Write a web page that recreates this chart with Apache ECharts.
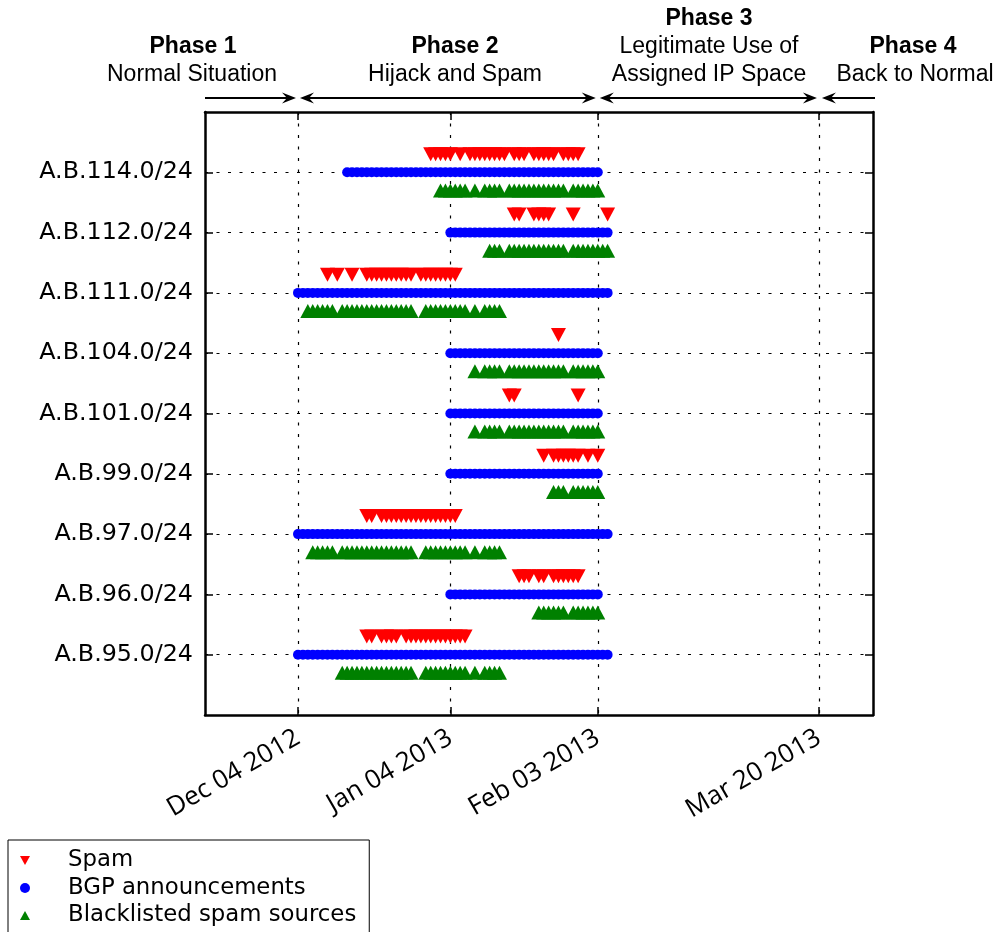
<!DOCTYPE html>
<html>
<head>
<meta charset="utf-8">
<script src="https://cdn.jsdelivr.net/npm/echarts@6/dist/echarts.min.js"></script>
<style>html,body{margin:0;padding:0;background:#fff;}#main{width:998px;height:932px;}</style>
</head>
<body>
<div id="main"></div>
<script>
// Day numbers are counted from Dec 04 2012 (day 0).
const rowNames = ['A.B.95.0/24','A.B.96.0/24','A.B.97.0/24','A.B.99.0/24','A.B.101.0/24','A.B.104.0/24','A.B.111.0/24','A.B.112.0/24','A.B.114.0/24'];
const tickDays = [0, 31, 61, 106];
const tickLabels = ['Dec 04 2012', 'Jan 04 2013', 'Feb 03 2013', 'Mar 20 2013'];
const phaseBoundaryDays = [0, 61, 106];

// one list per row, rows in rowNames order
const spamDays = [
  [14,15,17,18,19,20,22,23,24,25,26,27,28,29,30,31,32,33,34],
  [45,46,47,49,50,52,53,54,55,56,57],
  [14,15,17,18,19,20,21,22,23,24,25,26,27,28,29,30,31,32],
  [50,52,53,54,55,56,57,59,61],
  [43,44,57],
  [53],
  [6,8,11,14,15,16,17,18,19,20,21,22,23,25,26,27,28,29,30,31,32],
  [44,45,48,49,50,51,56,63],
  [27,28,29,30,31,33,35,36,37,38,39,40,41,42,44,45,46,48,49,50,51,52,54,55,56,57]
];
const bgpDays = [
  [0,1,2,3,4,5,6,7,8,9,10,11,12,13,14,15,16,17,18,19,20,21,22,23,24,25,26,27,28,29,30,31,32,33,34,35,36,37,38,39,40,41,42,43,44,45,46,47,48,49,50,51,52,53,54,55,56,57,58,59,60,61,62,63],
  [31,32,33,34,35,36,37,38,39,40,41,42,43,44,45,46,47,48,49,50,51,52,53,54,55,56,57,58,59,60,61],
  [0,1,2,3,4,5,6,7,8,9,10,11,12,13,14,15,16,17,18,19,20,21,22,23,24,25,26,27,28,29,30,31,32,33,34,35,36,37,38,39,40,41,42,43,44,45,46,47,48,49,50,51,52,53,54,55,56,57,58,59,60,61,62,63],
  [31,32,33,34,35,36,37,38,39,40,41,42,43,44,45,46,47,48,49,50,51,52,53,54,55,56,57,58,59,60,61],
  [31,32,33,34,35,36,37,38,39,40,41,42,43,44,45,46,47,48,49,50,51,52,53,54,55,56,57,58,59,60,61],
  [31,32,33,34,35,36,37,38,39,40,41,42,43,44,45,46,47,48,49,50,51,52,53,54,55,56,57,58,59,60,61],
  [0,1,2,3,4,5,6,7,8,9,10,11,12,13,14,15,16,17,18,19,20,21,22,23,24,25,26,27,28,29,30,31,32,33,34,35,36,37,38,39,40,41,42,43,44,45,46,47,48,49,50,51,52,53,54,55,56,57,58,59,60,61,62,63],
  [31,32,33,34,35,36,37,38,39,40,41,42,43,44,45,46,47,48,49,50,51,52,53,54,55,56,57,58,59,60,61,62,63],
  [10,11,12,13,14,15,16,17,18,19,20,21,22,23,24,25,26,27,28,29,30,31,32,33,34,35,36,37,38,39,40,41,42,43,44,45,46,47,48,49,50,51,52,53,54,55,56,57,58,59,60,61]
];
const blacklistDays = [
  [9,10,11,12,13,14,15,16,17,18,19,20,21,22,23,26,27,28,29,30,31,32,33,34,36,38,39,40,41],
  [49,50,51,52,53,54,56,57,58,59,60,61],
  [3,4,5,6,7,9,10,11,12,13,14,15,16,17,18,19,20,21,22,23,26,27,28,29,30,31,32,33,34,36,38,39,40,41],
  [52,53,54,56,57,58,59,60,61],
  [36,38,39,40,41,43,44,45,46,47,48,49,50,51,52,53,54,56,57,58,59,60,61],
  [36,38,39,40,41,43,44,45,46,47,48,49,50,51,52,53,54,56,57,58,59,60,61],
  [2,3,4,5,6,7,9,10,11,12,13,14,15,16,17,18,19,20,21,22,23,26,27,28,29,30,31,32,33,34,36,38,39,40,41],
  [39,40,41,43,44,45,46,47,48,49,50,51,52,53,54,56,57,58,59,60,61,62,63],
  [29,30,31,32,33,34,36,38,39,40,41,43,44,45,46,47,48,49,50,51,52,53,54,56,57,58,59,60,61]
];

const X_MIN = -18.92, X_MAX = 117.0;
const rowValues = rowNames.map((n, i) => i + 1);

function build(list, offset) {
  const out = [];
  list.forEach((days, i) => days.forEach(d => out.push([d, rowValues[i] + offset])));
  return out;
}

const gridLine = { show: true, lineStyle: { color: '#000', width: 1.2, type: [3, 8.5] } };
const frameLine = { show: true, onZero: false, lineStyle: { color: '#000', width: 2.5 } };
const tickStyle = { show: true, inside: true, length: 8, lineStyle: { color: '#000', width: 1.5 } };

const chart = echarts.init(document.getElementById('main'), null, { renderer: 'canvas' });
const option = {
  animation: false,
  backgroundColor: '#fff',
  grid: { left: 205, top: 112, width: 668, height: 603, containLabel: false },
  xAxis: [{
    type: 'value', min: X_MIN, max: X_MAX, position: 'bottom',
    axisLine: frameLine,
    axisTick: Object.assign({}, tickStyle, { customValues: tickDays }),
    axisLabel: {
      customValues: tickDays, rotate: 30, margin: 21,
      formatter: v => tickLabels[tickDays.indexOf(Math.round(v))] || '',
      fontFamily: '"Open Sans"', fontSize: 26, color: '#000'
    },
    splitLine: gridLine
  }, {
    type: 'value', min: X_MIN, max: X_MAX, position: 'top',
    axisLine: frameLine,
    axisTick: Object.assign({}, tickStyle, { customValues: tickDays }),
    axisLabel: { show: false }, splitLine: { show: false }
  }],
  yAxis: [{
    type: 'value', min: 0, max: 10, position: 'left',
    axisLine: frameLine,
    axisTick: Object.assign({}, tickStyle, { customValues: rowValues }),
    axisLabel: {
      customValues: rowValues, margin: 12,
      formatter: v => rowNames[Math.round(v) - 1] || '',
      fontFamily: '"DejaVu Sans"', fontSize: 23.8, color: '#000'
    },
    splitLine: gridLine
  }, {
    type: 'value', min: 0, max: 10, position: 'right',
    axisLine: frameLine,
    axisTick: Object.assign({}, tickStyle, { customValues: rowValues }),
    axisLabel: { show: false }, splitLine: { show: false }
  }],
  legend: {
    orient: 'vertical', left: 8, top: 840, height: 140,
    padding: [9, 13, 12, 12],
    itemWidth: 10, itemHeight: 10, itemGap: 4.5,
    borderColor: '#000', borderWidth: 1, backgroundColor: '#fff',
    textStyle: { fontFamily: '"DejaVu Sans"', fontSize: 22.8, color: '#000', lineHeight: 23, padding: [0, 0, 0, 33] },
    data: [
      { name: 'Spam', icon: 'path://M0,0 L10,0 L5,9 Z' },
      { name: 'BGP announcements', icon: 'circle' },
      { name: 'Blacklisted spam sources', icon: 'path://M5,0 L10,9 L0,9 Z' }
    ]
  },
  series: [{
    name: 'Spam', type: 'scatter', symbol: 'triangle', symbolRotate: 180, symbolSize: [15, 14],
    itemStyle: { color: '#ff0000', opacity: 1 }, data: build(spamDays, 0.3), z: 3
  }, {
    name: 'BGP announcements', type: 'scatter', symbol: 'circle', symbolSize: 10,
    itemStyle: { color: '#0000ff', opacity: 1 }, data: build(bgpDays, 0), z: 3
  }, {
    name: 'Blacklisted spam sources', type: 'scatter', symbol: 'triangle', symbolSize: [15, 14],
    itemStyle: { color: '#008000', opacity: 1 }, data: build(blacklistDays, -0.3), z: 3
  }]
};
chart.setOption(option);

// Phase annotations above the plot
const px = d => chart.convertToPixel({ xAxisIndex: 0 }, d);
const ARROW_Y = 98;
const leftEdge = px(X_MIN), rightEdge = px(X_MAX);
const b = phaseBoundaryDays.map(px);
function head(tipX, dir) { // dir: +1 points right, -1 points left
  return {
    type: 'polygon', silent: true,
    shape: { points: [[tipX, ARROW_Y], [tipX - dir * 14, ARROW_Y - 5.5], [tipX - dir * 9, ARROW_Y], [tipX - dir * 14, ARROW_Y + 5.5]] },
    style: { fill: '#000' }
  };
}
function seg(x1, x2) {
  return { type: 'line', silent: true, shape: { x1: x1, y1: ARROW_Y, x2: x2, y2: ARROW_Y }, style: { stroke: '#000', lineWidth: 2 } };
}
const g = [];
g.push(seg(leftEdge, b[0] - 6), head(b[0] - 2, 1));
g.push(seg(b[0] + 6, b[1] - 6), head(b[0] + 2, -1), head(b[1] - 2, 1));
g.push(seg(b[1] + 6, b[2] - 6), head(b[1] + 2, -1), head(b[2] - 2, 1));
g.push(seg(b[2] + 8, rightEdge + 2), head(b[2] + 3, -1));

const FONT = '"Liberation Sans", Arial, sans-serif';
function txt(s, x, y, bold) {
  return { type: 'text', silent: true, style: { text: s, x: x, y: y, align: 'center', verticalAlign: 'middle', font: (bold ? 'bold ' : '') + '23px ' + FONT, fill: '#000' } };
}
g.push(txt('Phase 1', 193, 47, true), txt('Normal Situation', 192, 75));
g.push(txt('Phase 2', 455, 47, true), txt('Hijack and Spam', 455, 75));
g.push(txt('Phase 3', 709, 19, true), txt('Legitimate Use of', 709, 47), txt('Assigned IP Space', 709, 75));
g.push(txt('Phase 4', 913, 47, true), txt('Back to Normal', 915, 75));
chart.setOption({ graphic: g });
</script>
</body>
</html>
